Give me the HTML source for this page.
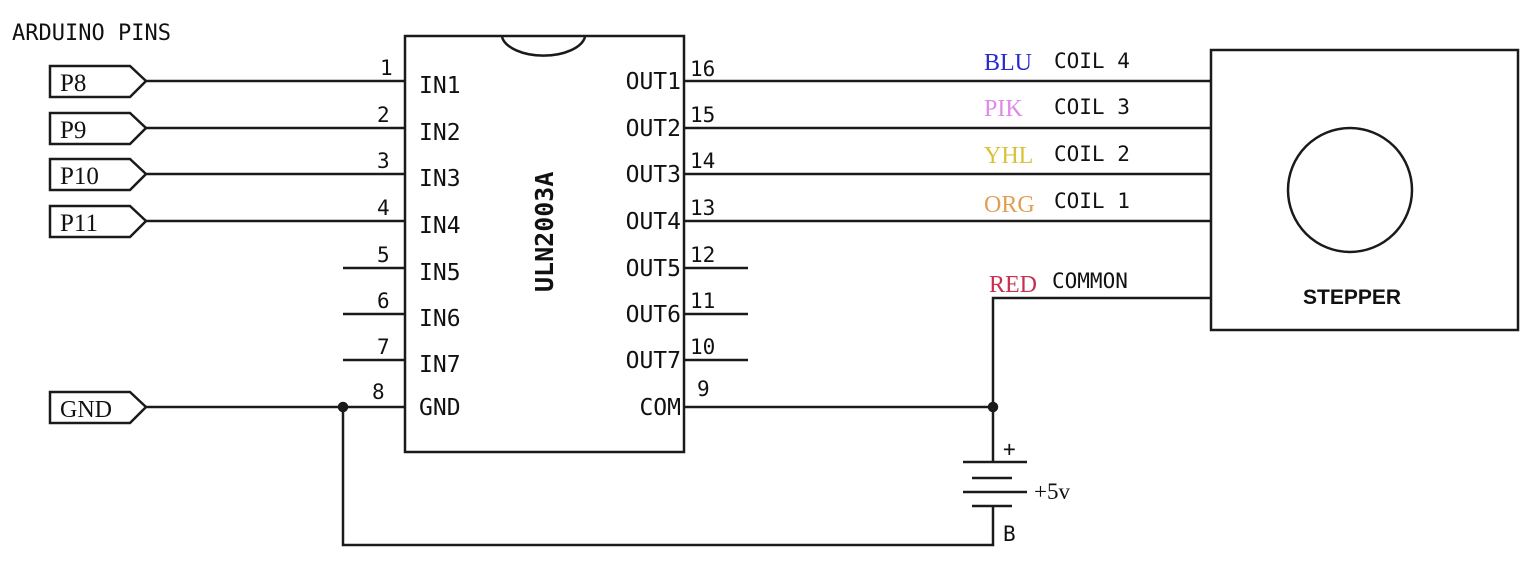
<!DOCTYPE html>
<html><head><meta charset="utf-8"><style>
html,body{margin:0;padding:0;background:#fff;}
svg{display:block;}
.t{font-family:"DejaVu Sans Mono","Liberation Mono",monospace;fill:#111;}
.s{font-family:"Liberation Serif",serif;}
line,rect,path,polyline,circle{stroke:#1a1a1a;stroke-width:2.5;fill:none;}
</style></head><body>
<svg width="1526" height="578" viewBox="0 0 1526 578">
<text class="t" x="12" y="40" font-size="22">ARDUINO PINS</text>

<rect x="405" y="36" width="279" height="416"/>
<path d="M502 37 A42 22 0 0 0 585 37"/>
<text class="t" font-size="25" font-weight="bold" transform="translate(553,292) rotate(-90)">ULN2003A</text>

<g>
<path d="M50 66 H130 L146 81 L130 97 H50 Z"/><text class="s" x="60" y="91" font-size="25" fill="#111">P8</text><line x1="146" y1="81" x2="405" y2="81"/>
<path d="M50 113 H130 L146 128 L130 144 H50 Z"/><text class="s" x="60" y="138" font-size="25" fill="#111">P9</text><line x1="146" y1="128" x2="405" y2="128"/>
<path d="M50 159 H130 L146 174 L130 190 H50 Z"/><text class="s" x="60" y="184" font-size="25" fill="#111">P10</text><line x1="146" y1="174" x2="405" y2="174"/>
<path d="M50 206 H130 L146 221 L130 237 H50 Z"/><text class="s" x="60" y="231" font-size="25" fill="#111">P11</text><line x1="146" y1="221" x2="405" y2="221"/>
<path d="M50 392 H130 L146 407 L130 423 H50 Z"/><text class="s" x="60" y="417" font-size="24" fill="#111">GND</text><line x1="146" y1="407" x2="405" y2="407"/>
</g>

<g>
<line x1="343" y1="268" x2="405" y2="268"/><line x1="343" y1="314" x2="405" y2="314"/><line x1="343" y1="360" x2="405" y2="360"/>
</g>
<g>
<text class="t" x="380" y="75" font-size="21">1</text><text class="t" x="377" y="122" font-size="21">2</text><text class="t" x="377" y="168" font-size="21">3</text><text class="t" x="377" y="215" font-size="21">4</text>
<text class="t" x="377" y="262" font-size="21">5</text><text class="t" x="377" y="308" font-size="21">6</text><text class="t" x="377" y="354" font-size="21">7</text><text class="t" x="372" y="399" font-size="21">8</text>
</g>
<g>
<text class="t" x="419" y="93" font-size="23">IN1</text><text class="t" x="419" y="140" font-size="23">IN2</text><text class="t" x="419" y="186" font-size="23">IN3</text><text class="t" x="419" y="233" font-size="23">IN4</text>
<text class="t" x="419" y="280" font-size="23">IN5</text><text class="t" x="419" y="326" font-size="23">IN6</text><text class="t" x="419" y="372" font-size="23">IN7</text><text class="t" x="419" y="415" font-size="23">GND</text>
</g>
<g text-anchor="end">
<text class="t" x="681" y="89" font-size="23">OUT1</text><text class="t" x="681" y="136" font-size="23">OUT2</text><text class="t" x="681" y="182" font-size="23">OUT3</text><text class="t" x="681" y="229" font-size="23">OUT4</text>
<text class="t" x="681" y="276" font-size="23">OUT5</text><text class="t" x="681" y="322" font-size="23">OUT6</text><text class="t" x="681" y="368" font-size="23">OUT7</text><text class="t" x="681" y="415" font-size="23">COM</text>
</g>
<g>
<text class="t" x="690" y="76" font-size="21">16</text><text class="t" x="690" y="122" font-size="21">15</text><text class="t" x="690" y="168" font-size="21">14</text><text class="t" x="690" y="215" font-size="21">13</text>
<text class="t" x="690" y="262" font-size="21">12</text><text class="t" x="690" y="308" font-size="21">11</text><text class="t" x="690" y="354" font-size="21">10</text><text class="t" x="697" y="396" font-size="21">9</text>
</g>
<g>
<line x1="684" y1="81" x2="1211" y2="81"/><line x1="684" y1="128" x2="1211" y2="128"/><line x1="684" y1="174" x2="1211" y2="174"/><line x1="684" y1="221" x2="1211" y2="221"/>
<line x1="684" y1="268" x2="748" y2="268"/><line x1="684" y1="314" x2="748" y2="314"/><line x1="684" y1="360" x2="748" y2="360"/>
<line x1="684" y1="407" x2="993" y2="407"/>
<polyline points="1211,298 993,298 993,462"/>
<polyline points="993,506 993,545 343,545 343,407"/>
<circle cx="993" cy="407" r="4" style="fill:#1a1a1a"/><circle cx="343" cy="407" r="4" style="fill:#1a1a1a"/>
</g>
<g>
<text class="s" x="984" y="70" font-size="24" fill="#2a2acc">BLU</text><text class="t" x="1054" y="68" font-size="21">COIL 4</text>
<text class="s" x="984" y="116" font-size="24" fill="#e08ae8">PIK</text><text class="t" x="1054" y="114" font-size="21">COIL 3</text>
<text class="s" x="984" y="163" font-size="24" fill="#d8c23a">YHL</text><text class="t" x="1054" y="161" font-size="21">COIL 2</text>
<text class="s" x="984" y="212" font-size="24" fill="#e0a050">ORG</text><text class="t" x="1054" y="208" font-size="21">COIL 1</text>
<text class="s" x="989" y="292" font-size="24" fill="#c83050">RED</text><text class="t" x="1052" y="288" font-size="21">COMMON</text>
</g>
<rect x="1211" y="50" width="307" height="280"/>
<circle cx="1350" cy="190" r="62"/>
<text x="1352" y="304" font-size="21" font-weight="bold" text-anchor="middle" font-family="Liberation Sans, sans-serif" fill="#111">STEPPER</text>
<g>
<line x1="963" y1="462" x2="1027" y2="462"/><line x1="972" y1="478" x2="1012" y2="478"/>
<line x1="963" y1="492" x2="1027" y2="492"/><line x1="972" y1="506" x2="1012" y2="506"/>
<text class="t" x="1003" y="456" font-size="21">+</text>
<text class="s" x="1034" y="499" font-size="23" fill="#111">+5v</text>
<text class="t" x="1003" y="541" font-size="21">B</text>
</g>
</svg>
</body></html>
